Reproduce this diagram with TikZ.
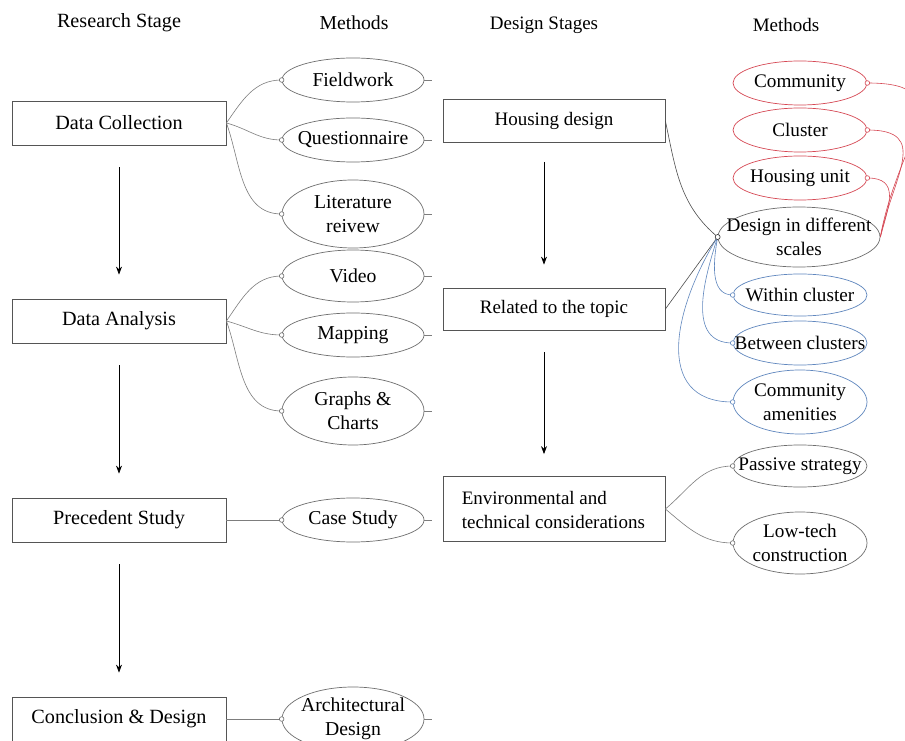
\documentclass[tikz,border=0pt]{standalone}
\usepackage{fontspec}
\setmainfont{Liberation Serif}
\usetikzlibrary{arrows.meta,shapes.geometric}
\definecolor{boxline}{RGB}{85,85,85}
\definecolor{elline}{RGB}{110,110,110}
\definecolor{conline}{RGB}{125,125,125}
\definecolor{redline}{RGB}{214,72,84}
\definecolor{blueline}{RGB}{96,135,190}
\newcommand{\sizeA}{\fontsize{20.2}{24}\selectfont}
\newcommand{\sizeB}{\fontsize{19.7}{24}\selectfont}
\newcommand{\sizeC}{\fontsize{19}{23.5}\selectfont}
\newcommand{\sizeD}{\fontsize{19.2}{23.5}\selectfont}
\tikzset{
  stagebox/.style={draw=boxline, line width=0.8pt, minimum width=214pt, minimum height=44pt, inner sep=0pt, font=\sizeA},
  dstagebox/.style={draw=boxline, line width=0.8pt, minimum width=222pt, inner sep=0pt, font=\sizeC},
  head/.style={font=\sizeA},
  eltext/.style={align=center, inner sep=0pt},
  conn/.style={draw=conline, line width=0.6pt},
  redconn/.style={draw=redline, line width=0.6pt},
  blueconn/.style={draw=blueline, line width=0.6pt},
  dot/.style={circle, draw=#1, fill=white, line width=0.6pt, minimum size=4.6pt, inner sep=0pt},
  flowarrow/.style={draw=black, line width=0.8pt, -{Stealth[length=8pt,width=6pt]}},
}
% \mel{name}{x}{y}{width}{height}{colour}{text}
\newcommand{\mel}[7]{%
  \node[ellipse, draw=#6, line width=0.7pt, minimum width=#4pt, minimum height=#5pt, inner sep=0pt] (#1) at (#2,#3) {};
  \node[eltext] (#1-t) at (#1) {#7};
}
\begin{document}
\begin{tikzpicture}[x=1pt,y=1pt]
\clip (0,0) rectangle (905,740);
\fill[white] (0,0) rectangle (905,740);

% headers
\node[head] (h1) at (119,717) {Research Stage};
\node[head, font=\sizeB] (h2) at (354,717) {Methods};
\node[head, font=\sizeC] (h3) at (544,715) {Design Stages};
\node[head, font=\sizeC] (h4) at (786,715) {Methods};

% research stage boxes
\node[stagebox] (dc) at (119,617) {Data Collection};
\node[stagebox] (da) at (119,419) {Data Analysis};
\node[stagebox] (ps) at (119,220) {Precedent Study};
\node[stagebox] (cd) at (119,21) {Conclusion \& Design};

\draw[flowarrow] ([yshift=-22pt]dc.south) -- ([yshift=24pt]da.north);
\draw[flowarrow] ([yshift=-22pt]da.south) -- ([yshift=24pt]ps.north);
\draw[flowarrow] ([yshift=-22pt]ps.south) -- ([yshift=24pt]cd.north);

% methods column
\begin{scope}[eltext/.append style={font=\sizeB}]
\mel{fw}{353}{660}{142}{44}{elline}{Fieldwork}
\mel{qn}{353}{600}{142}{44}{elline}{Questionnaire}
\mel{lr}{353}{526}{142}{68}{elline}{Literature\\reivew}
\mel{vd}{353}{464}{142}{52}{elline}{Video}
\mel{mp}{353}{405}{142}{44}{elline}{Mapping}
\mel{gc}{353}{329}{142}{68}{elline}{Graphs \&\\Charts}
\mel{cs}{353}{220}{142}{44}{elline}{Case Study}
\mel{ad}{353}{21}{142}{64}{elline}{Architectural\\Design}
\end{scope}

\foreach \n in {fw,qn,lr,vd,mp,gc,cs,ad}{
  \coordinate (\n-tick) at ([xshift=8pt]\n.east);
  \draw[conn] (\n.east) -- (\n-tick);
}

\draw[conn] (dc.east) to[out=55,in=180] (fw.west);
\draw[conn] (dc.east) to[out=-15,in=180] (qn.west);
\draw[conn] (dc.east) to[out=-70,in=180] (lr.west);
\draw[conn] (da.east) to[out=55,in=180] (vd.west);
\draw[conn] (da.east) to[out=-15,in=180] (mp.west);
\draw[conn] (da.east) to[out=-70,in=180] (gc.west);
\draw[conn] (ps.east) -- (cs.west);
\draw[conn] (cd.east) -- (ad.west);

\foreach \n in {fw,qn,lr,vd,mp,gc,cs,ad}{
  \node[dot=elline] (\n-d) at (\n.west) {};
}

% design stages
\node[dstagebox, minimum height=43pt] (hd) at (554,619) {Housing design};
\node[dstagebox, minimum height=42pt] (rt) at (554,431) {Related to the topic};
\node[dstagebox, minimum height=65pt] (env) at (554,231) {};
\node[eltext, font=\sizeC, align=left, anchor=west] (env-t) at ([xshift=19pt,yshift=-1pt]env.west) {Environmental and\\technical considerations};

\draw[flowarrow] ([xshift=-10pt,yshift=-19pt]hd.south) -- ([xshift=-10pt,yshift=23pt]rt.north);
\draw[flowarrow] ([xshift=-10pt,yshift=-22pt]rt.south) -- ([xshift=-10pt,yshift=22pt]env.north);

% right methods
\begin{scope}[eltext/.append style={font=\sizeD}]
\mel{cm}{800}{657}{134}{44}{redline}{Community}
\mel{cl}{800}{610}{134}{44}{redline}{Cluster}
\mel{hu}{800}{562}{134}{44}{redline}{Housing unit}
\mel{ds}{799}{503}{162}{60}{elline}{Design in different\\scales}
\mel{wc}{800}{445}{134}{42}{blueline}{Within cluster}
\mel{bc}{800}{397}{134}{44}{blueline}{Between clusters}
\mel{ca}{800}{338}{134}{64}{blueline}{Community\\amenities}
\mel{pa}{800}{274}{134}{42}{elline}{Passive strategy}
\mel{lt}{800}{197}{134}{62}{elline}{Low-tech\\construction}
\end{scope}

\draw[conn, draw=black!70] (hd.east) to[out=-78,in=140] (ds.west);
\draw[conn, draw=black!70] (rt.east) -- (ds.west);

\draw[blueconn] (ds.west) to[out=-100,in=180] (wc.west);
\draw[blueconn] (ds.west) to[out=-108,in=180,looseness=1.1] (bc.west);
\draw[blueconn] (ds.west) to[out=-122,in=180,looseness=1.25] (ca.west);

\draw[redconn] (ds.east) to[out=80,in=0,looseness=1.6] (cm.east);
\draw[redconn] (ds.east) to[out=78,in=0,looseness=1.5] (cl.east);
\draw[redconn] (ds.east) to[out=75,in=0,looseness=1.4] (hu.east);

\draw[conn] (env.east) to[out=40,in=180] (pa.west);
\draw[conn] (env.east) to[out=-40,in=180] (lt.west);

\node[dot=black!80, minimum size=5pt] (ds-d) at (ds.west) {};
\foreach \n in {cm,cl,hu}{ \node[dot=redline] (\n-d) at (\n.east) {}; }
\foreach \n in {wc,bc,ca}{ \node[dot=blueline] (\n-d) at (\n.west) {}; }
\foreach \n in {pa,lt}{ \node[dot=elline] (\n-d) at (\n.west) {}; }
\end{tikzpicture}
\end{document}
